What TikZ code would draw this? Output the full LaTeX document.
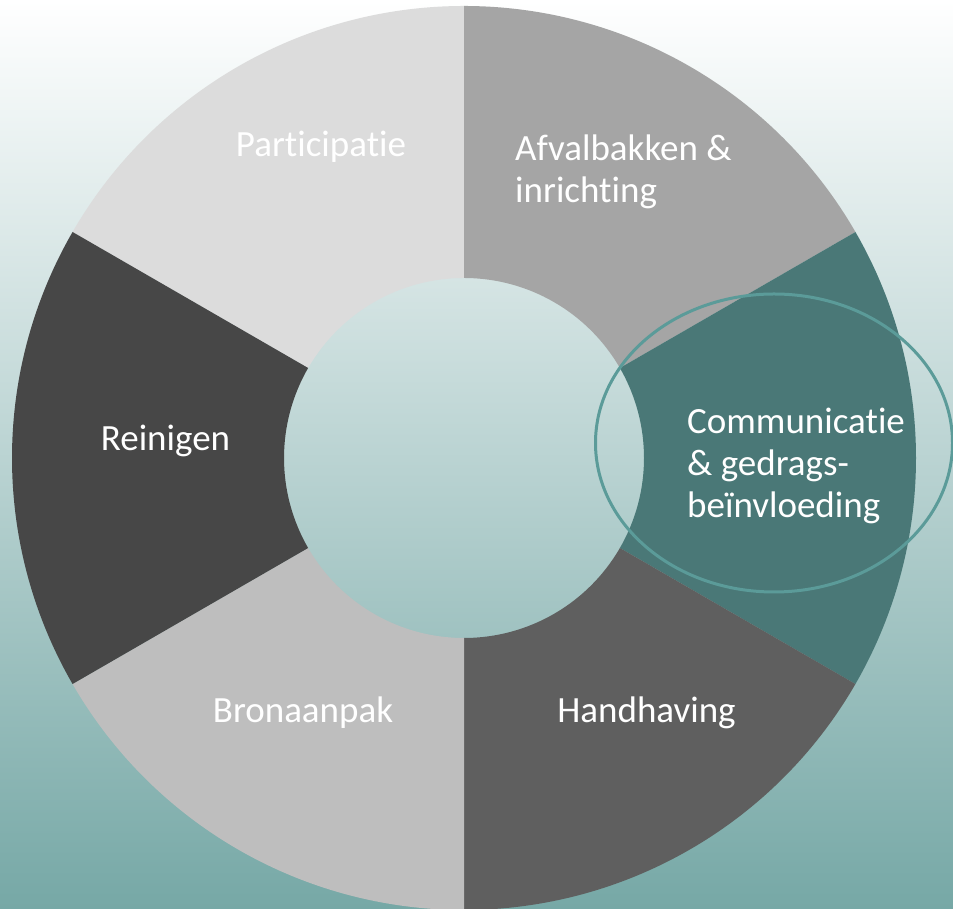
\documentclass[tikz,border=0pt]{standalone}
\usepackage{fontspec}
\setmainfont{Carlito}[Ligatures=NoCommon]
\usetikzlibrary{calc}
\definecolor{segA}{HTML}{DCDCDC}
\definecolor{segB}{HTML}{A5A5A5}
\definecolor{segC}{HTML}{4A7877}
\definecolor{segD}{HTML}{5F5F5F}
\definecolor{segE}{HTML}{BEBEBE}
\definecolor{segF}{HTML}{474747}
\definecolor{bgbot}{HTML}{76A8A6}
\definecolor{ringline}{HTML}{5B9B99}
\tikzset{
  lbl/.style={text=white, font=\fontsize{37}{42}\selectfont, inner sep=0pt, align=left},
}
\newcommand{\seg}[3]{%
  \fill[#3] ($(c)+(#1:452pt)$) arc[start angle=#1, end angle=#2, radius=452pt]
    -- ($(c)+(#2:180pt)$) arc[start angle=#2, end angle=#1, radius=180pt] -- cycle;}
\begin{document}
\begin{tikzpicture}[x=1pt,y=1pt]
\useasboundingbox (0,0) rectangle (953,909);
\shade[top color=white, bottom color=bgbot] (0,0) rectangle (953,909);
\coordinate (c) at (464,451);
\seg{90}{150}{segA}
\seg{30}{90}{segB}
\seg{-30}{30}{segC}
\seg{-90}{-30}{segD}
\seg{210}{270}{segE}
\seg{150}{210}{segF}
\draw[ringline, line width=3pt] (774,466) ellipse[x radius=178.5, y radius=149];
\node[lbl, anchor=base] (participatie) at (321,752) {Participatie};
\node[lbl, anchor=base west] (afval) at (515,706) {Afvalbakken \&\\inrichting};
\node[lbl, anchor=base west] (comm) at (687,391) {Communicatie\\\& gedrags-\\beïnvloeding};
\node[lbl, anchor=base] (reinigen) at (165.5,458) {Reinigen};
\node[lbl, anchor=base] (bron) at (303,186) {Bronaanpak};
\node[lbl, anchor=base] (handhaving) at (646.5,186) {Handhaving};
\end{tikzpicture}
\end{document}
